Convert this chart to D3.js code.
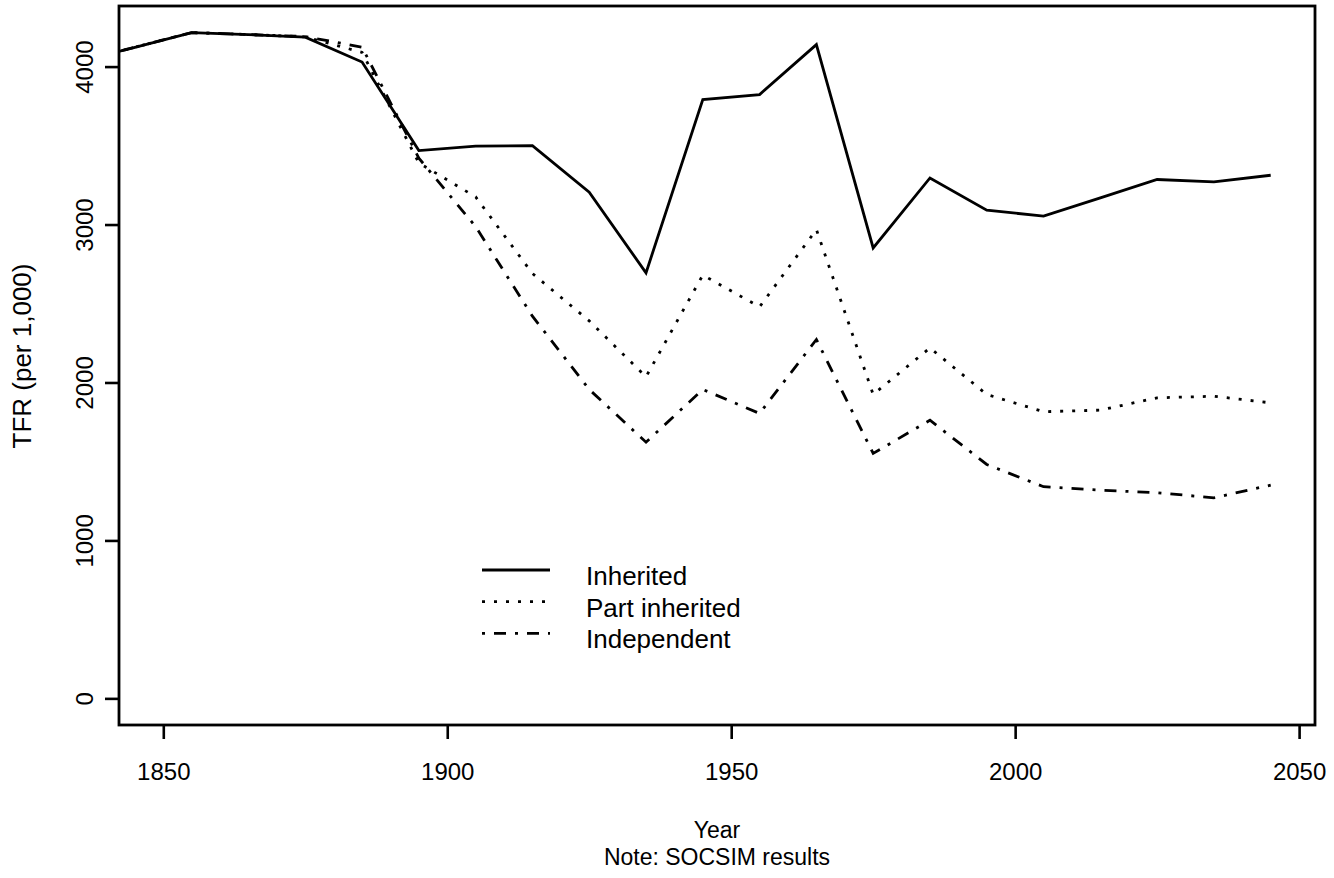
<!DOCTYPE html>
<html>
<head>
<meta charset="utf-8">
<script src="https://cdn.jsdelivr.net/npm/d3@7/dist/d3.min.js"></script>
<style>
  body { margin: 0; background: #fff; }
  svg text { font-family: "Liberation Sans", Arial, Helvetica, sans-serif; fill: #000; }
</style>
</head>
<body>
<svg width="1334" height="878"></svg>
<script>
// Values (TFR per 1,000), one point per decade
const YEARS = [1835, 1845, 1855, 1865, 1875, 1885, 1895, 1905, 1915, 1925, 1935,
               1945, 1955, 1965, 1975, 1985, 1995, 2005, 2015, 2025, 2035, 2045];
const INHERITED = [4030, 4122, 4215, 4203, 4186, 4029, 3468, 3496, 3500, 3205, 2694,
                   3791, 3823, 4139, 2852, 3295, 3091, 3053, 3169, 3285, 3270, 3312];
const PART_INHERITED = [4030, 4122, 4215, 4203, 4188, 4090, 3390, 3175, 2690, 2390, 2036,
                        2680, 2479, 2968, 1924, 2219, 1924, 1815, 1825, 1903, 1913, 1871];
const INDEPENDENT = [4030, 4122, 4215, 4203, 4190, 4123, 3420, 2987, 2420, 1956, 1622,
                     1956, 1804, 2272, 1551, 1761, 1481, 1340, 1318, 1302, 1270, 1350];

const SERIES_NAMES = ["Inherited", "Part inherited", "Independent"];
const X_TICKS = [1850, 1900, 1950, 2000, 2050];
const Y_TICKS = [0, 1000, 2000, 3000, 4000];

// Chart constants
const svg = d3.select("svg");
const box = { left: 119, right: 1315, top: 6, bottom: 725 };
const XLIM = [1850, 2045];
const YLIM = [0, 4215];
const pad = (lim) => [lim[0] - 0.04 * (lim[1] - lim[0]), lim[1] + 0.04 * (lim[1] - lim[0])];

const x = d3.scaleLinear().domain(pad(XLIM)).range([box.left, box.right]);
const y = d3.scaleLinear().domain(pad(YLIM)).range([box.bottom, box.top]);

const dashes = ["none", "3 9", "3 9 12 9"];
const seriesData = [INHERITED, PART_INHERITED, INDEPENDENT];

// Clip lines to the plot region
svg.append("clipPath").attr("id", "plotclip")
    .append("rect")
    .attr("x", box.left).attr("y", box.top)
    .attr("width", box.right - box.left).attr("height", box.bottom - box.top);

const line = d3.line()
    .x((d, i) => x(YEARS[i]))
    .y((d) => y(d));

svg.append("g")
    .attr("clip-path", "url(#plotclip)")
    .selectAll("path")
    .data(seriesData)
    .enter()
    .append("path")
    .attr("d", (d) => line(d))
    .attr("fill", "none")
    .attr("stroke", "#000")
    .attr("stroke-width", 2.8)
    .attr("stroke-linejoin", "miter")
    .attr("stroke-dasharray", (d, i) => dashes[i]);

// Axes
const xAxis = svg.append("g")
    .attr("transform", `translate(0,${box.bottom})`)
    .call(d3.axisBottom(x).tickValues(X_TICKS).tickSize(14).tickPadding(24).tickFormat(d3.format("d")));
xAxis.select(".domain").remove();
xAxis.selectAll("line").attr("stroke", "#000").attr("stroke-width", 2.6);
xAxis.selectAll("text").attr("font-size", 24);

const yAxis = svg.append("g")
    .attr("transform", `translate(${box.left},0)`)
    .call(d3.axisLeft(y).tickValues(Y_TICKS).tickSize(14).tickFormat(d3.format("d")));
yAxis.select(".domain").remove();
yAxis.selectAll("line").attr("stroke", "#000").attr("stroke-width", 2.6);
yAxis.selectAll("text")
    .attr("font-size", 24)
    .attr("x", null).attr("dy", null)
    .attr("text-anchor", "middle")
    .attr("transform", "translate(-26,0) rotate(-90)");

// Box
svg.append("rect")
    .attr("x", box.left).attr("y", box.top)
    .attr("width", box.right - box.left).attr("height", box.bottom - box.top)
    .attr("fill", "none").attr("stroke", "#000").attr("stroke-width", 2.8);

// Axis titles
svg.append("text")
    .attr("x", (box.left + box.right) / 2).attr("y", 838)
    .attr("text-anchor", "middle").attr("font-size", 23)
    .text("Year");
svg.append("text")
    .attr("x", (box.left + box.right) / 2).attr("y", 865)
    .attr("text-anchor", "middle").attr("font-size", 23)
    .text("Note: SOCSIM results");
svg.append("text")
    .attr("transform", `translate(31,356) rotate(-90)`)
    .attr("text-anchor", "middle").attr("font-size", 26)
    .text("TFR (per 1,000)");

// Legend
const legend = svg.append("g")
    .selectAll("g")
    .data(SERIES_NAMES)
    .enter()
    .append("g")
    .attr("transform", (d, i) => `translate(482,${570 + i * 31.7})`);
legend.append("line")
    .attr("x1", 0).attr("x2", 68)
    .attr("stroke", "#000").attr("stroke-width", 2.8)
    .attr("stroke-dasharray", (d, i) => dashes[i]);
legend.append("text")
    .attr("x", 104).attr("y", 15)
    .attr("font-size", 26)
    .text((d) => d);
</script>
</body>
</html>
